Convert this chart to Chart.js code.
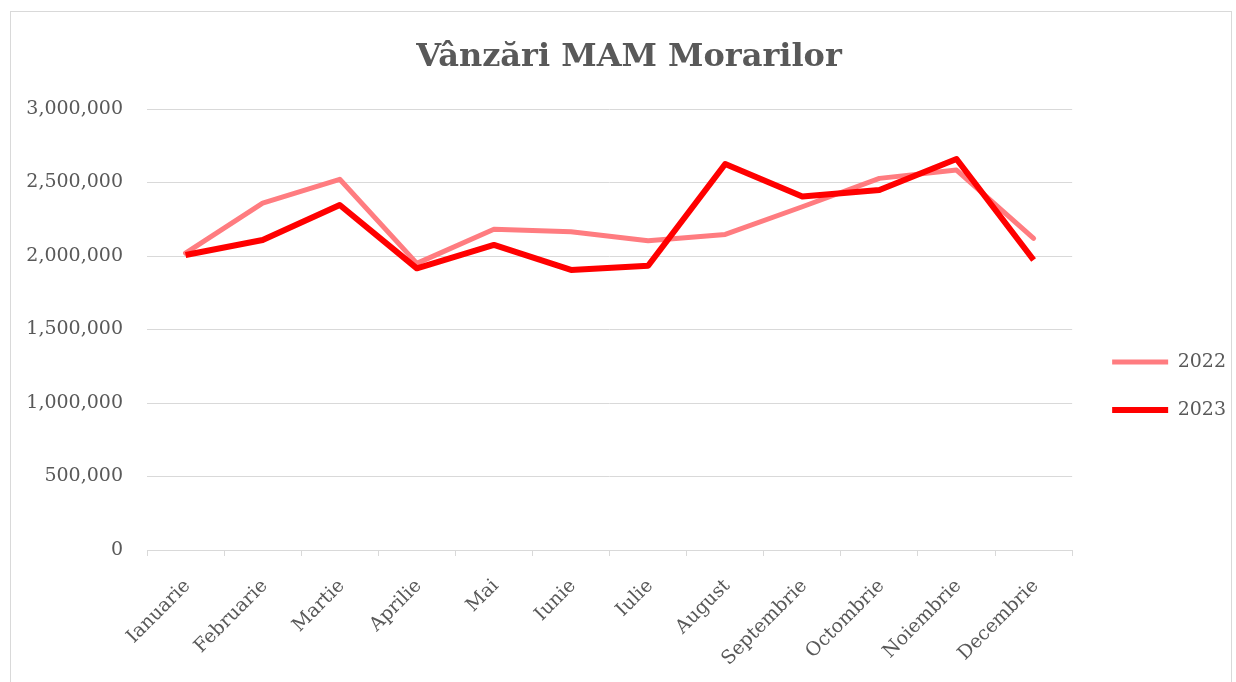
<!DOCTYPE html>
<html>
<head>
<meta charset="utf-8">
<title>Vânzări MAM Morarilor</title>
<script src="https://cdn.jsdelivr.net/npm/chart.js@4"></script>
<style>
    html, body { margin: 0; padding: 0; background: #ffffff; }
    #wrap { position: relative; width: 1236px; height: 682px; overflow: hidden; }
    #frame {
        position: absolute; left: 10px; top: 11px; width: 1222px; height: 690px;
        border: 1px solid #d9d9d9; box-sizing: border-box; pointer-events: none;
    }
</style>
</head>
<body>
<div id="wrap">
    <canvas id="vanzariChart" width="1236" height="682"></canvas>
    <div id="frame"></div>
</div>
<script>
const months = [
    "Ianuarie", "Februarie", "Martie", "Aprilie", "Mai", "Iunie",
    "Iulie", "August", "Septembrie", "Octombrie", "Noiembrie", "Decembrie",
];
const sales2022 = [
    2020000, 2360000, 2522000, 1950000, 2182000, 2165000,
    2104000, 2147000, 2335000, 2528000, 2585000, 2120000,
];
const sales2023 = [
    2007000, 2109000, 2347000, 1916000, 2075000, 1905000,
    1934000, 2626000, 2404000, 2449000, 2660000, 1973000,
];
const yTicks = [0, 500000, 1000000, 1500000, 2000000, 2500000, 3000000];

const textColor = "#595959";
const gridColor = "#d9d9d9";
const serif = "'DejaVu Serif', 'Liberation Serif', serif";

Chart.defaults.font.family = serif;
Chart.defaults.color = textColor;

const ctx = document.getElementById("vanzariChart");

new Chart(ctx.getContext("2d"), {
    type: "line",
    data: {
        labels: months,
        datasets: [
            {
                label: "2022",
                data: sales2022,
                borderColor: "#ff7c80",
                backgroundColor: "#ff7c80",
                borderWidth: 5,
                borderJoinStyle: "round",
                borderCapStyle: "round",
                pointRadius: 0,
                tension: 0,
                order: 2,
            },
            {
                label: "2023",
                data: sales2023,
                borderColor: "#ff0000",
                backgroundColor: "#ff0000",
                borderWidth: 6,
                borderJoinStyle: "round",
                borderCapStyle: "butt",
                pointRadius: 0,
                tension: 0,
                order: 1,
            },
        ],
    },
    options: {
        responsive: false,
        animation: false,
        devicePixelRatio: 1,
        layout: {
            // left padding only nudges the title to the right
            padding: { left: 22, right: 0, top: 0, bottom: 0 },
        },
        plugins: {
            title: {
                display: true,
                text: "Vânzări MAM Morarilor",
                color: textColor,
                font: { family: serif, size: 32, weight: "bold", lineHeight: 1.2 },
                padding: { top: 38, bottom: 32.6 },
            },
            legend: {
                position: "right",
                align: "center",
                title: {
                    display: true,
                    text: " ",
                    font: { size: 10, lineHeight: 1.2 },
                    padding: { top: 0, bottom: 78 },
                },
                labels: {
                    usePointStyle: true,
                    pointStyle: "line",
                    pointStyleWidth: 56,
                    padding: 29,
                    color: textColor,
                    font: { family: serif, size: 19 },
                    sort: (a, b) => a.datasetIndex - b.datasetIndex,
                },
            },
            tooltip: { enabled: false },
        },
        scales: {
            x: {
                type: "category",
                offset: true,
                grid: {
                    offset: true,
                    drawOnChartArea: false,
                    drawTicks: true,
                    tickLength: 6,
                    color: gridColor,
                },
                border: { display: true, color: gridColor, width: 1 },
                ticks: {
                    autoSkip: false,
                    minRotation: 45,
                    maxRotation: 45,
                    padding: 19,
                    labelOffset: 2,
                    color: textColor,
                    font: { family: serif, size: 19 },
                },
                afterFit: function (scale) {
                    scale.height = 132;
                },
            },
            y: {
                min: 0,
                max: 3000000,
                afterBuildTicks: function (scale) {
                    scale.ticks = yTicks.map((v) => ({ value: v }));
                },
                grid: {
                    color: gridColor,
                    lineWidth: 1,
                    drawTicks: false,
                },
                border: { display: false },
                ticks: {
                    padding: 24,
                    color: textColor,
                    font: { family: serif, size: 19 },
                    callback: function (value) {
                        return Number(value).toLocaleString("en-US");
                    },
                },
                afterFit: function (scale) {
                    scale.width = 125;
                },
            },
            gap: {
                position: "right",
                display: true,
                grid: { display: false, drawTicks: false },
                border: { display: false },
                ticks: { display: false },
                afterFit: function (scale) {
                    scale.width = 11;
                },
            },
        },
    },
});
</script>
</body>
</html>
